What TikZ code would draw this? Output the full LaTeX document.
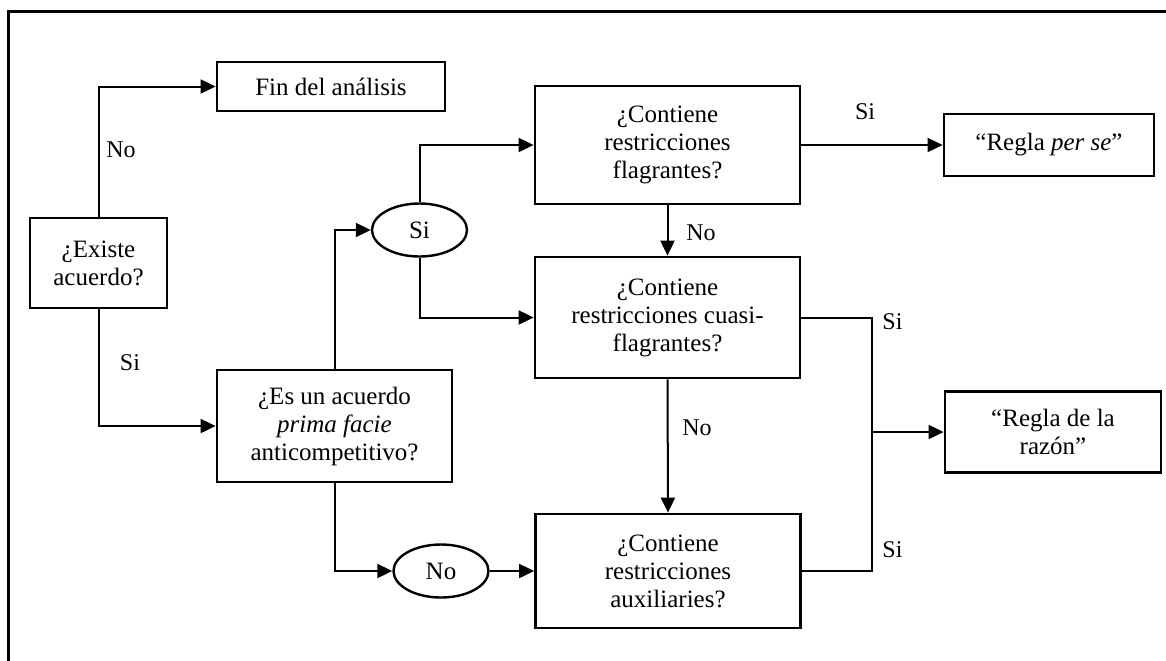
\documentclass[tikz,border=0pt]{standalone}
\usepackage{fontspec}
\setmainfont{Liberation Serif}
\usetikzlibrary{arrows.meta,shapes.geometric}
\tikzset{
  qbox/.style={draw, line width=1.4pt, align=center, inner sep=2pt,
    font=\fontsize{12.5}{14}\selectfont},
  midbox/.style={qbox, minimum width=132.5pt, minimum height=59pt},
  rulebox/.style={qbox, minimum width=105pt},
  oval/.style={ellipse, draw, line width=1.2pt, inner sep=0pt,
    minimum width=47.5pt, minimum height=26.5pt, font=\fontsize{12.5}{14}\selectfont},
  flow/.style={-{Triangle[length=7.5pt,width=7pt]}, line width=1pt},
  plainflow/.style={line width=1pt},
  lbl/.style={inner sep=1pt, font=\fontsize{12}{13}\selectfont}
}

\begin{document}
\begin{tikzpicture}[x=0.5pt, y=-0.5pt]
\useasboundingbox (0,0) rectangle (1166,660);
\clip (0,0) rectangle (1166,660);
% outer frame, runs off the page on the right and at the bottom
\draw[line width=1.5pt] (8,670) -- (8,11) -- (1175,11);

% left column
\node[qbox, minimum width=68.5pt, minimum height=45pt] (existe) at (98.5,263) {¿Existe\\acuerdo?};
\node[qbox, minimum width=114pt, minimum height=24.5pt] (fin) at (331,86.5) {Fin del análisis};
\node[qbox, minimum width=117.5pt, minimum height=56pt] (acuerdo) at (334.5,426) {¿Es un acuerdo\\\textit{prima facie}\\anticompetitivo?};

% branch ovals
\node[oval] (si) at (419.5,230) {Si};
\node[oval] (no) at (441,571) {No};

% middle column
\node[midbox] (flag) at (667.5,145) {¿Contiene\\restricciones\\flagrantes?};
\node[midbox, minimum height=60.5pt] (cuasi) at (667.5,317.5) {¿Contiene\\restricciones cuasi-\\flagrantes?};
\node[midbox, minimum height=57pt] (aux) at (668,571) {¿Contiene\\restricciones\\auxiliaries?};

% results
\node[rulebox, minimum height=31pt] (perse) at (1049,145) {“Regla \textit{per se}”};
\node[rulebox, minimum width=108pt, minimum height=40.5pt] (razon) at (1053,432) {“Regla de la\\razón”};
\coordinate (bus) at (872,432);

% connectors
\draw[flow] (existe.north) |- (fin.west);
\draw[flow] (existe.south) |- (acuerdo.west);
\draw[flow] (acuerdo.north) |- (si.west);
\draw[flow] (acuerdo.south) |- (no.west);
\draw[flow] (no.east) -- (aux.west);
\draw[flow] (si.north) |- (flag.west);
\draw[flow] (si.south) |- (cuasi.west);
\draw[flow] (flag.east) -- (perse.west);
\draw[flow] (flag.south) -- (cuasi.north);
\draw[flow] (cuasi.south) -- (aux.north);
\draw[plainflow] (cuasi.east) -| (bus) |- (aux.east);
\draw[flow] (bus) -- (razon.west);

% labels
\node[lbl] (lno1) at (121,150) {No};
\node[lbl] (lsi1) at (130,363) {Si};
\node[lbl] (lsi2) at (865,112) {Si};
\node[lbl] (lno2) at (701,233) {No};
\node[lbl] (lno3) at (697,428) {No};
\node[lbl, anchor=west] (lsi3) at (880,322) {Si};
\node[lbl, anchor=west] (lsi4) at (880,550) {Si};
\end{tikzpicture}
\end{document}
